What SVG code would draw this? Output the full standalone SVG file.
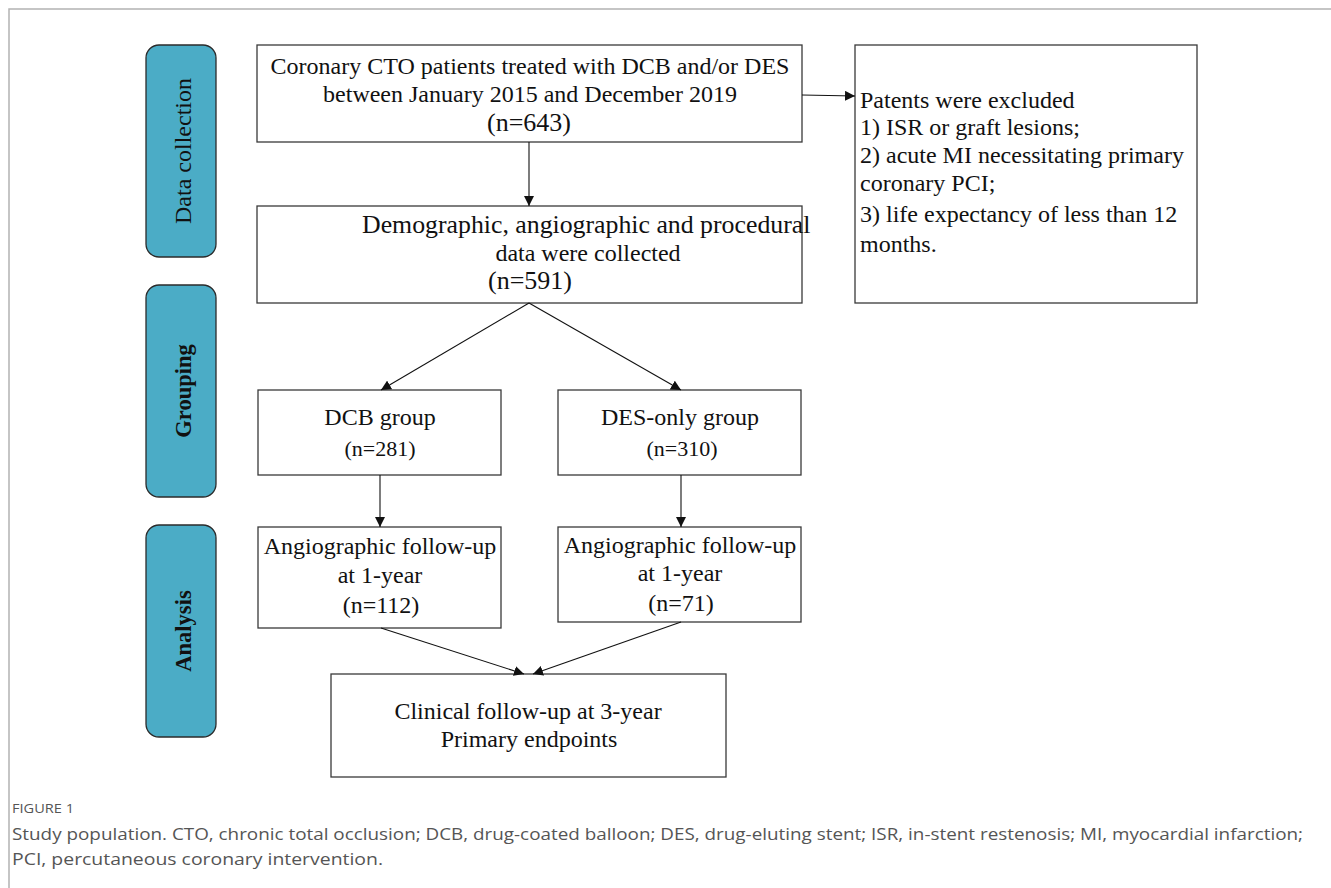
<svg xmlns="http://www.w3.org/2000/svg" width="1331" height="888" viewBox="0 0 1331 888">
<style>
.box{fill:#fff;stroke:#3a3a3a;stroke-width:1.3}
.side{fill:#4bacc6;stroke:#2b2b2b;stroke-width:1.3}
.t{font-family:"Liberation Serif","Times New Roman",serif;font-size:24px;fill:#111}
.m{text-anchor:middle}
.n26{font-size:26px}
.n22{font-size:22px}
.s{font-family:"Liberation Serif","Times New Roman",serif;font-size:24px;fill:#111;text-anchor:middle}
.sb{font-weight:bold;font-size:22.5px}
.c{stroke:#111;stroke-width:1.1;fill:none}
.cap{font-family:"Open Sans","Liberation Sans",sans-serif;fill:#555}
</style>
<defs>
<marker id="ah" viewBox="0 0 10 10" refX="10" refY="5" markerWidth="10" markerHeight="10" markerUnits="userSpaceOnUse" orient="auto">
<path d="M0,0 L10,5 L0,10 Z" fill="#111"/>
</marker>
</defs>
<rect width="1331" height="888" fill="#fff"/>
<path d="M9,888 V9 H1331" fill="none" stroke="#b3b3b3" stroke-width="1.5"/>

<g id="stage-data"><rect class="side" x="146" y="45" width="70" height="212" rx="13"/>
<text class="s" transform="translate(191,151) rotate(-90)">Data collection</text></g>
<g id="stage-grouping"><rect class="side" x="146" y="285" width="70" height="212" rx="13"/>
<text class="s sb" transform="translate(191,391) rotate(-90)">Grouping</text></g>
<g id="stage-analysis"><rect class="side" x="146" y="525" width="70" height="212" rx="13"/>
<text class="s sb" transform="translate(191,631) rotate(-90)">Analysis</text></g>

<g id="n-cohort"><rect class="box" x="257" y="45" width="545" height="97"/>
<text class="t m" x="530" y="74">Coronary CTO patients treated with DCB and/or DES</text>
<text class="t m" x="530" y="102">between January 2015 and December 2019</text>
<text class="t m n26" x="529" y="131">(n=643)</text></g>

<g id="n-excluded"><rect class="box" x="855" y="45" width="342" height="258"/>
<text class="t" x="860" y="108">Patents were excluded</text>
<text class="t" x="860" y="135">1) ISR or graft lesions;</text>
<text class="t" x="860" y="163">2) acute MI necessitating primary</text>
<text class="t" x="860" y="191">coronary PCI;</text>
<text class="t" x="860" y="222">3) life expectancy of less than 12</text>
<text class="t" x="860" y="252">months.</text></g>

<g id="n-collected"><rect class="box" x="257" y="206" width="545" height="97"/>
<text class="t" x="362" y="233" style="font-size:25.8px">Demographic, angiographic and procedural</text>
<text class="t m" x="588" y="261">data were collected</text>
<text class="t m n26" x="530" y="289">(n=591)</text></g>

<g id="n-dcb"><rect class="box" x="258" y="390" width="243" height="85"/>
<text class="t m" x="380" y="425">DCB group</text>
<text class="t m n22" x="380" y="456">(n=281)</text></g>

<g id="n-des"><rect class="box" x="558" y="390" width="243" height="85"/>
<text class="t m" x="680" y="425">DES-only group</text>
<text class="t m n22" x="682" y="456">(n=310)</text></g>

<g id="n-angio-dcb"><rect class="box" x="258" y="527" width="243" height="101"/>
<text class="t m" x="380" y="554">Angiographic follow-up</text>
<text class="t m" x="380" y="583">at 1-year</text>
<text class="t m" x="381" y="613">(n=112)</text></g>

<g id="n-angio-des"><rect class="box" x="558" y="527" width="243" height="95"/>
<text class="t m" x="680" y="553">Angiographic follow-up</text>
<text class="t m" x="680" y="581">at 1-year</text>
<text class="t m" x="681" y="611">(n=71)</text></g>

<g id="n-clinical"><rect class="box" x="331" y="674" width="395" height="103"/>
<text class="t m" x="528" y="719">Clinical follow-up at 3-year</text>
<text class="t m" x="529" y="747">Primary endpoints</text></g>

<g id="connectors">
<line class="c" x1="802" y1="95" x2="855" y2="96" marker-end="url(#ah)"/>
<line class="c" x1="529" y1="142" x2="529" y2="206" marker-end="url(#ah)"/>
<line class="c" x1="529" y1="303" x2="381" y2="390" marker-end="url(#ah)"/>
<line class="c" x1="529" y1="303" x2="681" y2="390" marker-end="url(#ah)"/>
<line class="c" x1="380" y1="475" x2="380" y2="527" marker-end="url(#ah)"/>
<line class="c" x1="681" y1="475" x2="681" y2="527" marker-end="url(#ah)"/>
<line class="c" x1="381" y1="628" x2="524" y2="674" marker-end="url(#ah)"/>
<line class="c" x1="681" y1="622" x2="533" y2="674" marker-end="url(#ah)"/>
</g>

<g id="caption">
<text class="cap" x="12" y="813" style="font-size:13.5px" textLength="62" lengthAdjust="spacingAndGlyphs">FIGURE 1</text>
<text class="cap" x="12" y="840" style="font-size:17px" textLength="1291" lengthAdjust="spacingAndGlyphs">Study population. CTO, chronic total occlusion; DCB, drug-coated balloon; DES, drug-eluting stent; ISR, in-stent restenosis; MI, myocardial infarction;</text>
<text class="cap" x="12" y="865" style="font-size:17px" textLength="371" lengthAdjust="spacingAndGlyphs">PCI, percutaneous coronary intervention.</text>
</g>
</svg>
